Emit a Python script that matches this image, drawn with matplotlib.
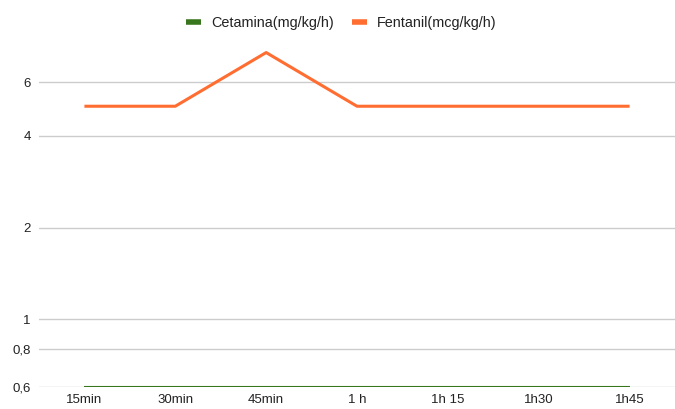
import matplotlib
matplotlib.use("Agg")
import matplotlib.pyplot as plt
from matplotlib.ticker import FixedLocator, FixedFormatter, NullLocator

categories = ["15min", "30min", "45min", "1 h", "1h 15", "1h30", "1h45"]
cetamina = [0.6, 0.6, 0.6, 0.6, 0.6, 0.6, 0.6]
fentanil = [5, 5, 7.5, 5, 5, 5, 5]
yticks = [0.6, 0.8, 1, 2, 4, 6]
yticklabels = ["0,6", "0,8", "1", "2", "4", "6"]

plt.rcParams['font.family'] = ['Liberation Sans', 'DejaVu Sans']

fig = plt.figure(figsize=(6.75, 4.09), dpi=100)
ax = fig.add_axes([39/675, 1 - 387/409, 1 - 39/675, (387 - 44)/409])

x = list(range(len(categories)))
ax.plot(x, cetamina, color='#38761d', lw=1.5, label='Cetamina(mg/kg/h)', zorder=3, solid_capstyle='butt')
ax.plot(x, fentanil, color='#ff6d31', lw=2.2, label='Fentanil(mcg/kg/h)', zorder=3, solid_capstyle='butt')

ax.set_yscale('log')
ax.set_ylim(0.6, 8)
ax.set_xlim(-0.5, len(categories) - 0.5)
ax.yaxis.set_major_locator(FixedLocator(yticks))
ax.yaxis.set_major_formatter(FixedFormatter(yticklabels))
ax.yaxis.set_minor_locator(NullLocator())
ax.set_xticks(x)
ax.set_xticklabels(categories)
ax.grid(axis='y', color='#cccccc', lw=1)
ax.set_axisbelow(True)
for s in ax.spines.values():
    s.set_visible(False)
ax.tick_params(axis='both', length=0, labelsize=9.5, colors='#222222')
ax.tick_params(axis='y', pad=6)
ax.tick_params(axis='x', pad=5)

leg = fig.legend(loc='center', bbox_to_anchor=(0.5 + 4/675, 1 - 23.5/409), ncol=2, frameon=False,
                 fontsize=10.4, handlelength=1.0, handletextpad=0.7, columnspacing=1.3)
for h in leg.get_lines():
    h.set_linewidth(4)
for t in leg.get_texts():
    t.set_color('#222222')

fig.savefig('out.png', dpi=100)
